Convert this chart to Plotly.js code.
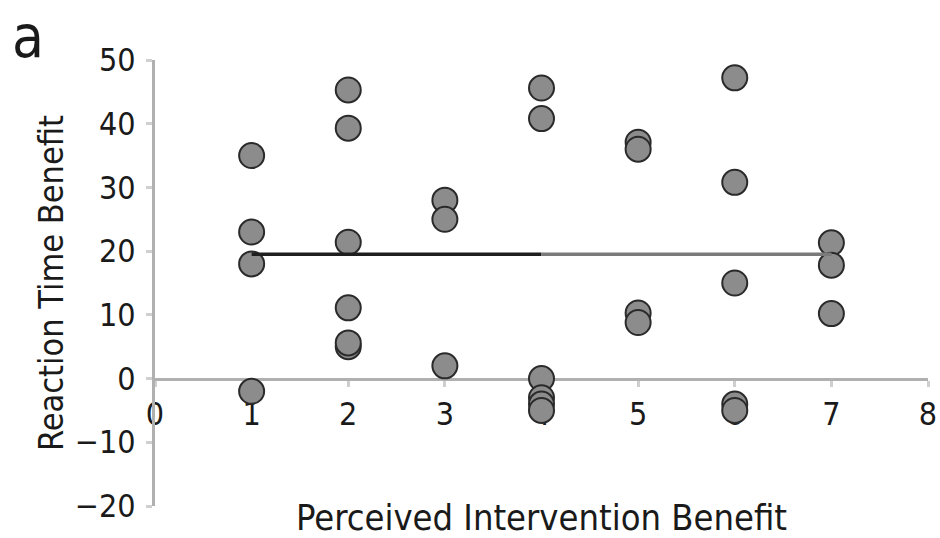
<!DOCTYPE html>
<html>
<head>
<meta charset="utf-8">
<script src="https://cdn.plot.ly/plotly-3.0.1.min.js"></script>
<style>
html,body{margin:0;padding:0;background:#fff;}
#chart{width:940px;height:538px;}
</style>
</head>
<body>
<div id="chart"></div>
<script>
// Perceived Intervention Benefit (x) vs Reaction Time Benefit (y)
var pointsX = [1,1,1,1, 2,2,2,2,2,2, 3,3,3, 4,4,4,4,4,4, 5,5,5,5, 6,6,6,6,6, 7,7,7];
var pointsY = [35,23,18,-2, 45.3,39.3,21.4,11.1,5.0,5.6, 28,25,2, 45.6,40.8,0,-3,-4,-5, 37.1,36,10.3,8.8, 47.2,30.8,15,-4,-5, 21.3,17.8,10.2];
var fitLeftX = [1,4];
var fitRightX = [4,7];
var fitY = 19.5;
var xTicks = [0,1,2,3,4,5,6,7,8];
var yTicks = [-20,-10,0,10,20,30,40,50];
var panelLabel = 'a';
var xTitle = 'Perceived Intervention Benefit';
var yTitle = 'Reaction Time Benefit';

var FONT = '"Liberation Sans Narrow", "DejaVu Sans Condensed", "Arial Narrow", sans-serif';

var traces = [
  {x: fitLeftX, y: [fitY, fitY], xaxis: 'x2', yaxis: 'y', mode: 'lines', type: 'scatter',
   line: {color: '#1e1e1e', width: 3.5}, hoverinfo: 'skip', showlegend: false},
  {x: fitRightX, y: [fitY, fitY], xaxis: 'x2', yaxis: 'y', mode: 'lines', type: 'scatter',
   line: {color: '#7a7a7a', width: 3.5}, hoverinfo: 'skip', showlegend: false},
  {x: pointsX, y: pointsY, xaxis: 'x', yaxis: 'y', mode: 'markers', type: 'scatter',
   marker: {size: 25, color: '#8c8c8c', line: {color: '#2a2a2a', width: 2}},
   showlegend: false}
];

var yMin = -20, yMax = 50;
var layout = {
  width: 940, height: 538,
  margin: {l: 155, r: 12, t: 60, b: 32, pad: 0},
  paper_bgcolor: '#fff', plot_bgcolor: '#fff',
  font: {family: FONT, color: '#1a1a1a', size: 33},
  showlegend: false,
  xaxis: {
    range: [0, 8], anchor: 'y', side: 'bottom',
    showgrid: false, zeroline: false, showline: false, ticks: '',
    showticklabels: false,
    title: {text: xTitle, standoff: 0, font: {family: FONT, size: 36, color: '#1a1a1a'}}
  },
  xaxis2: {
    range: [0, 8], overlaying: 'x', anchor: 'free', position: (0 - yMin) / (yMax - yMin),
    tickvals: xTicks, ticktext: xTicks.map(String),
    showgrid: false, zeroline: false,
    showline: true, linecolor: '#b0b0b0', linewidth: 3,
    ticks: 'outside', ticklen: 6, tickwidth: 3, tickcolor: '#cfcfcf',
    tickfont: {family: FONT, size: 32, color: '#1a1a1a'},
    layer: 'below traces'
  },
  yaxis: {
    range: [yMin, yMax],
    tickvals: yTicks, ticktext: yTicks.map(function(v){ return v < 0 ? '\u2212' + Math.abs(v) : String(v); }),
    showgrid: false, zeroline: false,
    showline: true, linecolor: '#b0b0b0', linewidth: 3,
    ticks: 'outside', ticklen: 6, tickwidth: 3, tickcolor: '#cfcfcf',
    ticklabelstandoff: 4,
    tickfont: {family: FONT, size: 32, color: '#1a1a1a'},
    title: {text: yTitle, standoff: 1, font: {family: FONT, size: 34, color: '#1a1a1a'}}
  },
  annotations: [{
    text: panelLabel, xref: 'paper', yref: 'paper',
    x: (10 - 155) / 773, y: (506 - 1) / 446, xanchor: 'left', yanchor: 'top',
    showarrow: false, font: {family: FONT, size: 58, color: '#1a1a1a'}
  }]
};

Plotly.newPlot('chart', traces, layout, {displayModeBar: false, staticPlot: true});
</script>
</body>
</html>
